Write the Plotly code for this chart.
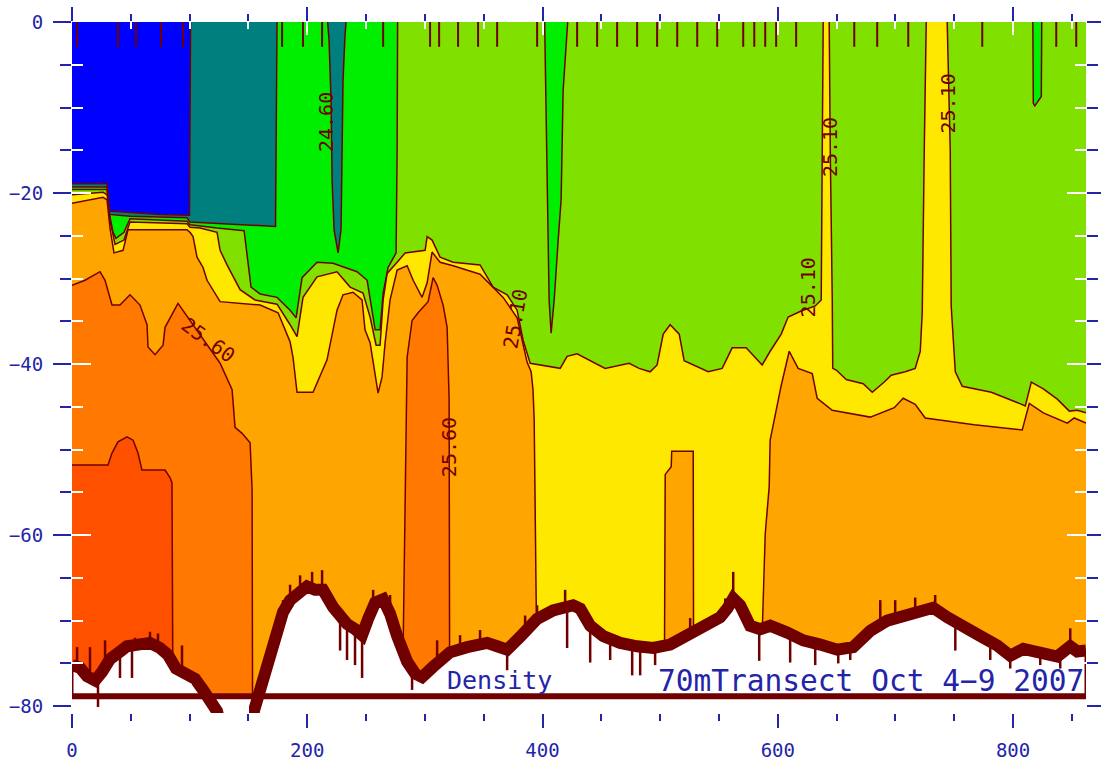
import numpy as np
import plotly.graph_objects as go

# ---------------------------------------------------------------------------
# Density section along the 70 m transect, Oct 4-9 2007
# distance along transect in km, depth in m (negative down)
# ---------------------------------------------------------------------------
XMAX = 862.0
FLOOR = -82.0          # isopycnal not present in the water column
TXT_BLUE = "#2424A8"
LINE_RED = "#700000"

levels = [24.35, 24.60, 24.85, 25.10, 25.35, 25.60, 25.85]
band_colors = ["#0000FF", "#007F7F", "#00EE00", "#80E000",
               "#FFE800", "#FFA500", "#FF7800", "#FF5000"]

# depth of each isopycnal along the section (0 = outcrops at the surface)
s2435_km = [0, 29.8, 31.5, 49.3, 74.8, 97.8, 99.9, 100.8, 862]
s2435_m = [-18.9, -18.9, -22.1, -22.3, -22.5, -22.6, -22.6, 0, 0]

s2460_km = [0, 29.8, 31.5, 49.3, 97.8, 100.3, 173.0, 174.3, 217.3, 218.5,
            220.2, 221.1, 222.8, 226.2, 228.7, 229.6, 230.4, 232.1, 233.0, 862]
s2460_m = [-19.3, -19.3, -22.5, -22.7, -22.9, -23.4, -23.9, 0, 0, -2.1,
           -9.1, -18.5, -24.3, -27.0, -24.3, -16.1, -6.8, -1.5, 0, 0]

s2485_km = [0, 29.8, 32.3, 34.9, 37.4, 44.2, 49.3, 97.8, 100.3, 123.3,
            146.3, 148.8, 152.2, 159.9, 174.3, 185.4, 190.5, 195.6, 208.3, 221.9,
            242.3, 250.9, 255.1, 257.7, 261.9, 264.5, 268.7, 275.5, 276.4, 276.8,
            401.8, 402.2, 403.9, 405.6, 407.3, 409.9, 413.3, 415.8, 417.5, 420.1,
            421.4, 816.8, 817.2, 818.5, 824.0, 824.4, 862]
s2485_m = [-19.6, -19.6, -22.8, -24.6, -25.3, -24.6, -23.0, -23.3, -23.7, -24.1,
           -24.4, -27.3, -31.0, -31.8, -32.2, -33.7, -34.6, -29.9, -28.1, -28.2,
           -29.2, -30.2, -33.7, -36.0, -36.0, -31.7, -28.7, -27.0, -15.0, 0,
           0, -3.3, -20.8, -32.5, -36.4, -32.5, -25.5, -20.8, -8.0, -3.3,
           0, 0, -9.5, -9.8, -8.7, 0, 0]

s2510_km = [0, 26.4, 29.8, 32.3, 36.6, 44.2, 49.3, 97.8, 100.3, 108.8,
            123.3, 125.9, 131.8, 136.9, 142.9, 155.6, 174.3, 185.4, 191.3, 196.4,
            208.3, 225.3, 236.4, 247.4, 253.4, 258.5, 261.9, 264.5, 267.9, 276.4,
            283.2, 300.2, 301.9, 306.1, 312.9, 324.0, 346.9, 358.0, 369.9, 378.4,
            383.5, 389.5, 409.0, 415.0, 420.9, 429.4, 453.2, 473.6, 482.1, 491.5,
            497.4, 502.6, 508.5, 516.2, 520.4, 540.8, 552.7, 561.2, 573.1, 586.7,
            593.5, 602.9, 608.8, 619.9, 631.8, 636.9, 637.8, 638.6, 643.7, 644.6,
            646.3, 646.7, 649.7, 658.2, 672.6, 680.3, 690.5, 696.4, 708.3, 716.8,
            721.1, 722.8, 724.5, 726.2, 744.0, 746.6, 747.4, 750.9, 756.8, 781.5,
            805.3, 810.4, 815.5, 825.7, 837.6, 847.8, 854.6, 862]
s2510_m = [-20.2, -19.9, -20.2, -23.2, -26.0, -25.5, -23.4, -23.6, -24.0, -24.1,
           -24.6, -26.7, -28.4, -29.7, -31.3, -32.5, -33.0, -35.4, -36.8, -32.2,
           -29.8, -29.2, -31.0, -31.7, -34.5, -37.8, -37.8, -32.5, -29.4, -28.1,
           -27.0, -26.7, -25.1, -25.5, -27.5, -28.1, -28.4, -31.0, -31.9, -33.7,
           -37.2, -39.9, -40.4, -40.5, -39.1, -38.8, -40.5, -39.9, -40.5, -40.9,
           -40.1, -36.5, -35.4, -36.5, -39.6, -40.9, -40.5, -38.1, -38.1, -40.1,
           -38.5, -36.5, -34.5, -33.8, -33.2, -32.5, -15.0, 0, 0, -15.0,
           -32.5, -40.5, -40.7, -41.8, -42.3, -43.3, -42.1, -41.3, -40.9, -40.5,
           -38.5, -34.0, -15.0, 0, 0, -15.0, -33.2, -40.9, -42.6, -43.3,
           -44.6, -44.9, -42.1, -42.9, -44.1, -45.5, -45.4, -45.7]

s2535_km = [0, 26.4, 29.8, 32.3, 35.7, 43.4, 47.6, 97.8, 100.3, 102.9,
            106.3, 111.4, 114.8, 125.9, 159.9, 175.2, 185.4, 187.9, 191.3, 204.9,
            216.8, 221.9, 225.3, 230.4, 238.9, 246.6, 249.1, 253.4, 257.7, 260.2,
            263.6, 266.2, 270.4, 276.4, 284.9, 290.0, 297.6, 301.9, 306.1, 312.9,
            324.0, 346.9, 366.5, 378.4, 386.9, 390.3, 391.9, 392.9, 394.6, 395.4,
            396.3, 503.4, 504.3, 509.4, 509.8, 528.1, 528.5, 585.0, 586.7, 589.3,
            592.7, 593.5, 602.9, 609.7, 617.3, 629.3, 633.5, 646.3, 678.6, 699.0,
            706.6, 716.8, 725.3, 767.0, 807.8, 813.8, 825.7, 846.1, 852.0, 862]
s2535_m = [-21.2, -20.5, -20.8, -24.1, -27.0, -26.7, -24.3, -24.3, -24.6, -25.1,
           -27.5, -28.7, -30.2, -32.7, -33.1, -34.0, -37.4, -39.2, -43.3, -43.3,
           -39.5, -36.0, -33.7, -31.9, -31.6, -32.5, -36.0, -37.5, -41.5, -43.4,
           -41.5, -37.5, -32.5, -29.0, -28.5, -30.2, -32.2, -30.5, -26.9, -28.1,
           -28.5, -29.5, -32.2, -34.6, -39.8, -40.9, -43.0, -46.5, -67.6, -79.3,
           -82, -82, -52.9, -52.0, -50.2, -50.2, -82, -82, -71.6, -59.9,
           -54.3, -48.9, -42.5, -38.5, -40.5, -41.1, -44.0, -45.4, -46.2, -45.1,
           -44.0, -44.7, -46.3, -47.1, -47.7, -44.6, -45.7, -46.9, -46.3, -46.9]

s2560_km = [0, 11.1, 23.8, 28.1, 34.0, 40.8, 49.3, 57.8, 63.8, 64.6,
            70.6, 77.4, 79.1, 90.1, 125.9, 128.4, 136.1, 138.6, 144.6, 151.4,
            153.1, 153.5, 153.9, 280.6, 281.5, 282.3, 284.9, 289.1, 294.2, 302.7,
            307.0, 310.4, 315.5, 318.9, 320.6, 321.0, 321.4, 862]
s2560_m = [-30.8, -30.2, -29.2, -30.2, -33.1, -33.1, -31.9, -33.1, -35.4, -38.0,
           -38.9, -37.8, -35.7, -32.9, -39.9, -40.7, -43.0, -47.4, -48.1, -49.2,
           -54.7, -79.3, -82, -82, -72.3, -65.3, -39.2, -34.9, -34.0, -32.7,
           -29.9, -30.8, -33.1, -35.7, -44.2, -74.6, -82, -82]

s2585_km = [0, 30.6, 34.0, 39.1, 46.8, 51.9, 56.1, 59.5, 79.1, 83.4,
            85.0, 85.5, 85.9, 862]
s2585_m = [-51.8, -51.8, -50.4, -49.1, -48.5, -48.9, -50.4, -52.4, -52.4, -53.3,
           -53.9, -73.4, -82, -82]

isopycnals = [(s2435_km, s2435_m), (s2460_km, s2460_m), (s2485_km, s2485_m),
              (s2510_km, s2510_m), (s2535_km, s2535_m), (s2560_km, s2560_m),
              (s2585_km, s2585_m)]

# sea floor from the echo sounder
bottom_km = [0, 6.8, 12.8, 19.6, 25.5, 32.3, 39.1, 46.8, 56.1, 66.3,
             74.8, 81.6, 88.4, 97.8, 104.6, 111.4, 117.3, 123.3, 127.6, 151.4,
             154.8, 159.0, 163.3, 168.4, 174.3, 179.4, 185.4, 192.2, 199.8, 206.6,
             213.4, 221.9, 227.9, 233.8, 240.6, 246.6, 251.7, 257.7, 264.5, 270.4,
             276.4, 284.9, 291.7, 297.6, 307.0, 314.6, 321.4, 335.9, 352.9, 361.4,
             369.9, 381.0, 395.4, 409.0, 417.5, 426.0, 432.0, 440.5, 451.5, 466.0,
             480.4, 494.0, 508.5, 523.0, 536.6, 551.0, 557.0, 562.1, 568.0, 576.5,
             585.0, 593.5, 608.0, 621.6, 636.1, 650.5, 664.1, 678.6, 693.0, 706.6,
             721.1, 732.1, 744.0, 757.7, 772.1, 786.6, 797.6, 808.7, 823.1, 837.6,
             848.6, 854.6, 862]
bottom_m = [-75.2, -75.5, -76.5, -77.0, -76.0, -74.5, -73.8, -73.0, -72.8, -72.6,
            -73.2, -74.0, -75.6, -76.3, -76.8, -78.1, -79.3, -80.6, -83, -83,
            -80.5, -78.5, -76.3, -73.5, -70.8, -69.0, -67.6, -66.8, -66.0, -66.4,
            -66.4, -68.4, -69.5, -70.4, -71.0, -71.7, -69.8, -67.9, -67.5, -69.2,
            -71.8, -74.8, -76.2, -76.6, -75.4, -74.4, -73.7, -73.1, -72.6, -73.0,
            -73.4, -71.9, -69.8, -68.8, -68.5, -68.2, -68.6, -70.6, -71.8, -72.6,
            -73.0, -73.2, -72.8, -71.6, -70.8, -69.6, -68.6, -67.4, -68.2, -70.6,
            -71.0, -70.6, -71.4, -72.3, -72.8, -73.4, -73.1, -71.2, -70.0, -69.4,
            -69.0, -68.5, -69.6, -70.5, -71.8, -72.9, -74.1, -73.3, -73.8, -74.2,
            -73.0, -73.6, -73.5]

# isolated sounder returns above / below the main bottom trace
spike_km = [4.3, 15.3, 28.1, 53.6, 66.3, 73.1, 93.5, 199.8, 212.6, 270.4,
            395.4, 419.2, 562.1, 687.1, 733.8, 848.6, 22.1, 40.8, 51.0, 233.8,
            246.6, 369.9, 420.9, 476.2, 483.0, 584.2, 651.4, 797.6,
            179.4, 185.4, 193.9, 204.1, 227.9, 240.6, 256.0, 289.1, 310.4, 329.9,
            346.9, 385.2, 440.5, 457.5, 495.7, 525.5, 555.3, 610.5, 631.8, 661.6,
            699.8, 716.8, 750.9, 780.6, 823.1, 840.1]
spike_m = [-73.1, -73.1, -72.3, -72.0, -71.3, -71.5, -72.9, -65.3, -64.1, -67.0,
           -68.2, -66.4, -64.3, -67.6, -67.0, -70.9, -80.1, -76.7, -76.7, -74.6,
           -76.7, -75.8, -73.2, -76.4, -76.4, -74.7, -75.0, -75.6,
           -67.6, -65.8, -64.7, -64.3, -73.5, -75.2, -66.4, -78.1, -72.3, -71.7,
           -71.1, -69.4, -74.9, -74.6, -75.2, -69.7, -67.4, -74.9, -75.2, -74.6,
           -67.6, -67.3, -73.5, -74.6, -75.2, -75.6]

# CTD station positions
station_km = [4.3, 39.1, 54.4, 75.7, 94.4, 178.6, 196.4, 212.6, 264.5, 304.4,
              312.1, 328.2, 345.2, 361.4, 395.4, 429.4, 446.4, 463.4, 480.4, 497.4,
              514.5, 531.5, 548.5, 570.6, 580.0, 589.3, 598.6, 615.6, 665.0, 684.5,
              710.9, 773.8, 836.7, 853.7]
station_mark_m = -2.9
bar_m = -78.85

# contour labels
label_text = ["24.60", "25.60", "25.60", "25.10", "25.10", "25.10", "25.10"]
label_km = [215.9, 115.6, 320.6, 376.7, 625.9, 644.6, 744.9]
label_m = [-11.7, -37.2, -49.7, -34.7, -31.0, -14.6, -9.5]
label_angle = [-90, 36, -90, -80, -90, -90, -90]


def contour_path(xs, ys):
    """Split an isopycnal into drawn pieces, skipping runs along the surface or floor."""
    px, py = [], []
    for i in range(len(xs) - 1):
        a, b = ys[i], ys[i + 1]
        if (a >= 0 and b >= 0) or (a <= FLOOR and b <= FLOOR):
            continue
        if px and px[-1] == xs[i] and py[-1] == ys[i]:
            px.append(xs[i + 1]); py.append(ys[i + 1])
        else:
            if px:
                px.append(None); py.append(None)
            px += [xs[i], xs[i + 1]]
            py += [ys[i], ys[i + 1]]
    return px, py


fig = go.Figure()

# lightest water fills the section, denser bands painted beneath each isopycnal
fig.add_trace(go.Scatter(x=[0, XMAX, XMAX, 0], y=[0, 0, -90, -90], fill="toself",
                         fillcolor=band_colors[0], mode="lines", line=dict(width=0),
                         hoverinfo="skip"))
for k, (km, m) in enumerate(isopycnals):
    fig.add_trace(go.Scatter(x=list(km) + [XMAX, 0], y=list(m) + [-90, -90],
                             fill="toself", fillcolor=band_colors[k + 1], mode="lines",
                             line=dict(width=0), hoverinfo="skip"))

# contour lines
for km, m in isopycnals:
    cx, cy = contour_path(km, m)
    fig.add_trace(go.Scatter(x=cx, y=cy, mode="lines",
                             line=dict(color=LINE_RED, width=1.5), hoverinfo="skip"))

# blank out everything below the sea floor and below the base line
fig.add_trace(go.Scatter(x=bottom_km + [XMAX, 0], y=bottom_m + [-90, -90], fill="toself",
                         fillcolor="white", mode="lines", line=dict(width=0),
                         hoverinfo="skip"))
fig.add_trace(go.Scatter(x=[0, XMAX, XMAX, 0], y=[bar_m, bar_m, -90, -90], fill="toself",
                         fillcolor="white", mode="lines", line=dict(width=0),
                         hoverinfo="skip"))

# base line with end posts
fig.add_trace(go.Scatter(x=[0, XMAX], y=[bar_m, bar_m], mode="lines",
                         line=dict(color=LINE_RED, width=6), hoverinfo="skip"))
fig.add_trace(go.Scatter(x=[0, 0, None, XMAX, XMAX],
                         y=[bottom_m[0], bar_m, None, bottom_m[-1], bar_m], mode="lines",
                         line=dict(color=LINE_RED, width=3), hoverinfo="skip"))

# sea floor trace and its spikes
fig.add_trace(go.Scatter(x=bottom_km, y=bottom_m, mode="lines",
                         line=dict(color=LINE_RED, width=12), hoverinfo="skip"))
sx, sy = [], []
for xk, tip in zip(spike_km, spike_m):
    base = float(np.interp(xk, bottom_km, bottom_m))
    sx += [xk, xk, None]
    sy += [base, tip, None]
fig.add_trace(go.Scatter(x=sx, y=sy, mode="lines",
                         line=dict(color=LINE_RED, width=2.5), hoverinfo="skip"))

# station marks along the surface
tx, ty = [], []
for xk in station_km:
    tx += [xk, xk, None]
    ty += [0, station_mark_m, None]
fig.add_trace(go.Scatter(x=tx, y=ty, mode="lines",
                         line=dict(color=LINE_RED, width=2), hoverinfo="skip"))

# dummy traces carrying the inner (white) tick axes
fig.add_trace(go.Scatter(x=[None], y=[None], xaxis="x2", yaxis="y", hoverinfo="skip"))
fig.add_trace(go.Scatter(x=[None], y=[None], xaxis="x", yaxis="y2", hoverinfo="skip"))

# contour labels
for t, xk, yk, ang in zip(label_text, label_km, label_m, label_angle):
    fig.add_annotation(x=xk, y=yk, text=t, textangle=ang, showarrow=False,
                       font=dict(family="DejaVu Sans Mono", size=20, color=LINE_RED))

# section title inside the plot
fig.add_annotation(x=317, y=-77.0, text="Density", xanchor="left", yanchor="middle",
                   showarrow=False,
                   font=dict(family="DejaVu Sans Mono", size=25, color=TXT_BLUE))
fig.add_annotation(x=XMAX, y=-77.0, text="70mTransect Oct 4\u22129 2007", xanchor="right",
                   yanchor="middle", showarrow=False,
                   font=dict(family="DejaVu Sans Mono", size=29.5, color=TXT_BLUE))

tickfont = dict(family="DejaVu Sans Mono", size=19, color=TXT_BLUE)
fig.update_layout(
    width=1101, height=763,
    margin=dict(l=72, r=15, t=22, b=50),
    paper_bgcolor="white", plot_bgcolor="white",
    showlegend=False,
    xaxis=dict(range=[0, XMAX], showgrid=False, zeroline=False, showline=False,
               automargin=False,
               tickmode="array", tickvals=[0, 200, 400, 600, 800],
               ticks="outside", ticklen=14, tickwidth=2, tickcolor=TXT_BLUE,
               minor=dict(ticks="outside", ticklen=7, tickwidth=2, tickcolor=TXT_BLUE,
                          dtick=50, tick0=0, showgrid=False),
               mirror="ticks", tickfont=tickfont, ticklabelstandoff=6),
    yaxis=dict(range=[-80.8, 0], showgrid=False, zeroline=False, showline=False,
               automargin=False,
               tickmode="array", tickvals=[0, -20, -40, -60, -80],
               ticks="outside", ticklen=18, tickwidth=2, tickcolor=TXT_BLUE,
               minor=dict(ticks="outside", ticklen=11, tickwidth=2, tickcolor=TXT_BLUE,
                          dtick=5, tick0=0, showgrid=False),
               mirror="ticks", tickfont=tickfont, ticklabelstandoff=6),
    xaxis2=dict(overlaying="x", anchor="y", range=[0, XMAX], showgrid=False,
                zeroline=False, showline=False, showticklabels=False, automargin=False,
                tickmode="array", tickvals=[0, 200, 400, 600, 800],
                ticks="inside", ticklen=13, tickwidth=2, tickcolor="white",
                minor=dict(ticks="inside", ticklen=7, tickwidth=2, tickcolor="white",
                           dtick=50, tick0=0, showgrid=False),
                mirror="ticks"),
    yaxis2=dict(overlaying="y", anchor="x", range=[-80.8, 0], showgrid=False,
                zeroline=False, showline=True, linecolor="white", linewidth=2,
                showticklabels=False, automargin=False,
                tickmode="array", tickvals=[0, -20, -40, -60, -80],
                ticks="inside", ticklen=19, tickwidth=2, tickcolor="white",
                minor=dict(ticks="inside", ticklen=11, tickwidth=2, tickcolor="white",
                           dtick=5, tick0=0, showgrid=False),
                mirror="ticks"),
)

fig.write_html("out.html")
